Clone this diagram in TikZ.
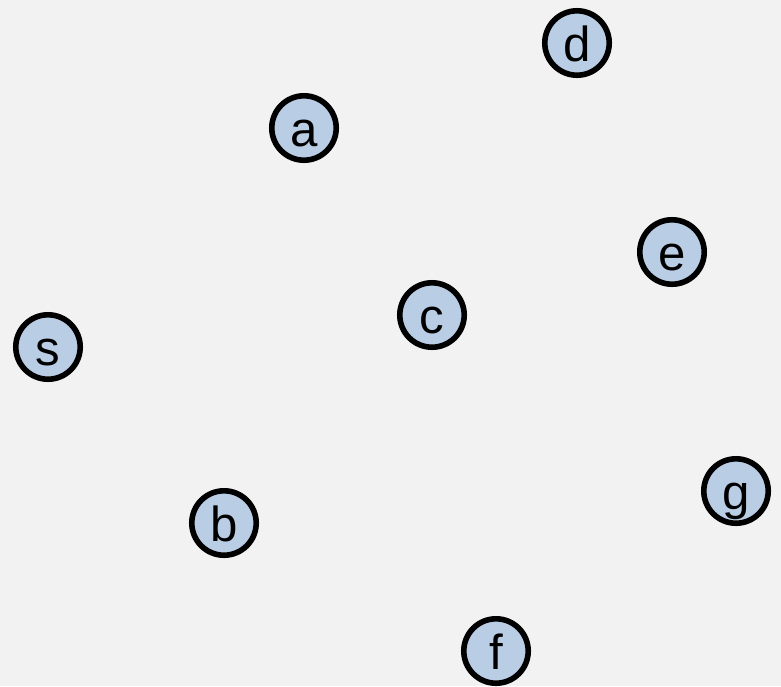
\documentclass[tikz,border=0pt]{standalone}
\usepackage{fontspec}
\setmainfont{Liberation Sans}
\definecolor{bggray}{HTML}{F2F2F2}
\definecolor{nodeblue}{HTML}{B9CDE5}
\begin{document}
\begin{tikzpicture}[
  x=0.025cm, y=-0.025cm,
  vertex/.style={circle, draw=black, fill=nodeblue, line width=4pt,
    minimum size=1.61cm, inner sep=0pt, text height=0.92cm, text depth=0pt,
    font=\fontsize{35}{35}\selectfont}
]
\fill[bggray] (0,0) rectangle (781,686);
\useasboundingbox (0,0) rectangle (781,686);
\node[vertex] (s) at (48,347) {s};
\node[vertex] (a) at (304,128) {a};
\node[vertex] (b) at (224,523) {b};
\node[vertex] (c) at (432,315) {c};
\node[vertex] (d) at (577,43) {d};
\node[vertex] (e) at (672,252) {e};
\node[vertex] (f) at (496,651) {f};
\node[vertex] (g) at (736,491) {g};
\end{tikzpicture}
\end{document}
